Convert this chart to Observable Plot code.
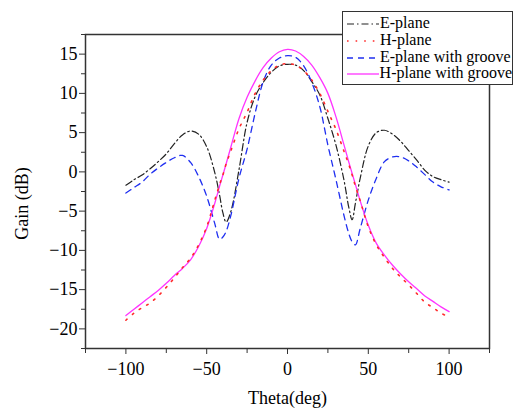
<!DOCTYPE html>
<html><head><meta charset="utf-8">
<script src="https://cdn.jsdelivr.net/npm/d3@7"></script>
<script src="https://cdn.jsdelivr.net/npm/@observablehq/plot@0.6"></script>
<style>
body{margin:0;background:#fff;}
#wrap{position:relative;width:520px;height:409px;overflow:hidden;}
#legend{position:absolute;left:342px;top:11px;width:171px;height:74px;background:#fff;border:1.5px solid #333;font-family:"Liberation Serif","Times New Roman",serif;font-size:16px;color:#000;box-sizing:border-box;padding-top:3px;}
.row{display:flex;align-items:center;height:16.7px;white-space:nowrap;}
.row svg{margin-left:4px;margin-right:1px;}
</style></head>
<body><div id="wrap"></div>
<script>
const theta = [-100,-95,-90,-85,-80,-75,-70,-65,-60,-55,-50,-45,-42,-40,-38,-35,-30,-25,-20,-15,-10,-5,0,5,10,15,20,25,30,35,38,40,42,45,50,55,60,65,70,75,80,85,90,95,100];
const ePlane =        [-1.7,-1.0,-0.4,0.4,1.3,2.3,3.6,4.7,5.2,4.8,3.2,-0.1,-3.0,-5.2,-6.4,-5.0,0.3,6.3,9.6,11.4,12.7,13.5,13.7,13.6,12.9,11.5,9.8,6.8,3.4,-1.1,-4.6,-6.1,-4.0,-0.8,3.3,5.0,5.3,4.8,3.9,2.7,1.5,0.2,-0.6,-1.0,-1.3];
const hPlane =        [-18.9,-18.0,-17.3,-16.7,-15.8,-14.7,-13.5,-12.2,-11.0,-9.3,-7.0,-3.6,-1.6,-0.4,1.0,2.7,5.5,7.6,10.0,11.7,12.9,13.6,13.8,13.6,12.9,11.7,10.0,7.7,5.4,2.6,0.9,-0.4,-1.8,-3.7,-7.0,-9.3,-10.9,-12.3,-13.4,-14.4,-15.5,-16.6,-17.3,-18.0,-18.5];
const ePlaneGroove =  [-2.7,-2.0,-1.3,-0.3,0.5,1.2,1.8,2.1,1.2,-0.6,-3.1,-6.6,-8.6,-8.3,-7.6,-5.5,-0.8,2.9,7.5,11.5,13.6,14.5,14.8,14.6,13.5,11.4,8.3,3.4,-1.0,-5.6,-7.9,-8.9,-9.3,-7.2,-3.6,-0.8,1.3,1.9,1.9,1.4,0.6,-0.35,-1.3,-1.9,-2.3];
const hPlaneGroove =  [-18.3,-17.5,-16.7,-15.9,-15.1,-14.2,-13.2,-12.3,-11.2,-9.5,-7.2,-4.0,-1.8,-0.4,1.0,3.2,6.8,9.5,11.6,13.3,14.5,15.3,15.6,15.4,14.7,13.6,12.0,10.0,7.0,3.4,1.2,-0.2,-1.6,-3.7,-6.8,-9.1,-10.6,-11.9,-13.0,-14.0,-14.9,-15.8,-16.5,-17.2,-17.8];
const seriesNames = ["E-plane","H-plane","E-plane with groove","H-plane with groove"];
const xMajor = [-100,-50,0,50,100];
const xMinor = [-125,-75,-25,25,75,125];
const yMajor = [-20,-15,-10,-5,0,5,10,15];
const yMinor = [-22.5,-17.5,-12.5,-7.5,-2.5,2.5,7.5,12.5,17.5];

const styles = {
  "E-plane": {stroke:"#222", dash:"7,3,1.5,3", width:1.2},
  "H-plane": {stroke:"#ff2a2a", dash:"1.6,7", width:1.6},
  "E-plane with groove": {stroke:"#1f2ff0", dash:"6,5", width:1.3},
  "H-plane with groove": {stroke:"#ff33ff", dash:null, width:1.3}
};
const values = [ePlane, hPlane, ePlaneGroove, hPlaneGroove];
const table = (vals) => theta.map((t,i)=>({theta:t, gain:vals[i]}));
const order = [0,2,3,1];
const lineMarks = order.map(k => {
  const s = styles[seriesNames[k]];
  return Plot.line(table(values[k]), {x:"theta", y:"gain", stroke:s.stroke, strokeWidth:s.width, strokeDasharray:s.dash ?? undefined, curve:"catmull-rom"});
});

const chart = Plot.plot({
  width:520, height:409,
  marginLeft:85, marginRight:31, marginTop:34, marginBottom:61,
  style:{fontFamily:'"Liberation Serif","Times New Roman",serif', fontSize:"18px", color:"#000", background:"#fff"},
  x:{domain:[-125,125]},
  y:{domain:[-22.5,17.5]},
  marks:[
    Plot.axisX({ticks:xMajor, tickSize:6, tickPadding:8, label:"Theta(deg)", labelAnchor:"center", labelArrow:"none", labelOffset:55, fontSize:18, stroke:"#333"}),
    Plot.axisX({ticks:xMinor, tickSize:5, tickFormat:()=>"", label:null, stroke:"#333"}),
    Plot.axisY({ticks:yMajor, tickSize:6, tickPadding:2, label:"Gain (dB)", labelAnchor:"center", labelArrow:"none", labelOffset:70, fontSize:18, stroke:"#333"}),
    Plot.axisY({ticks:yMinor, tickSize:4, tickFormat:()=>"", label:null, stroke:"#333"}),
    Plot.frame({stroke:"#333", strokeWidth:1.5}),
    ...lineMarks
  ]
});
const wrap = document.getElementById("wrap");
wrap.appendChild(chart);
// nudge the y-axis title down a little, as in the reference
d3.select(chart).selectAll('g[aria-label="y-axis label"]').each(function(){
  const g = d3.select(this);
  const t = g.attr("transform") || "";
  g.attr("transform", (t + " translate(0,12)").trim());
});

// legend
const legend = document.createElement("div");
legend.id = "legend";
seriesNames.forEach(name => {
  const s = styles[name];
  const row = document.createElement("div");
  row.className = "row";
  const ns = "http://www.w3.org/2000/svg";
  const svg = document.createElementNS(ns,"svg");
  svg.setAttribute("width","32"); svg.setAttribute("height","16");
  const ln = document.createElementNS(ns,"line");
  ln.setAttribute("x1","0"); ln.setAttribute("x2","32");
  ln.setAttribute("y1","9"); ln.setAttribute("y2","9");
  ln.setAttribute("stroke", s.stroke);
  ln.setAttribute("stroke-width", s.width);
  if (s.dash) ln.setAttribute("stroke-dasharray", s.dash);
  svg.appendChild(ln);
  row.appendChild(svg);
  const tx = document.createElement("span");
  tx.textContent = name;
  row.appendChild(tx);
  legend.appendChild(row);
});
wrap.appendChild(legend);
</script>
</body></html>
